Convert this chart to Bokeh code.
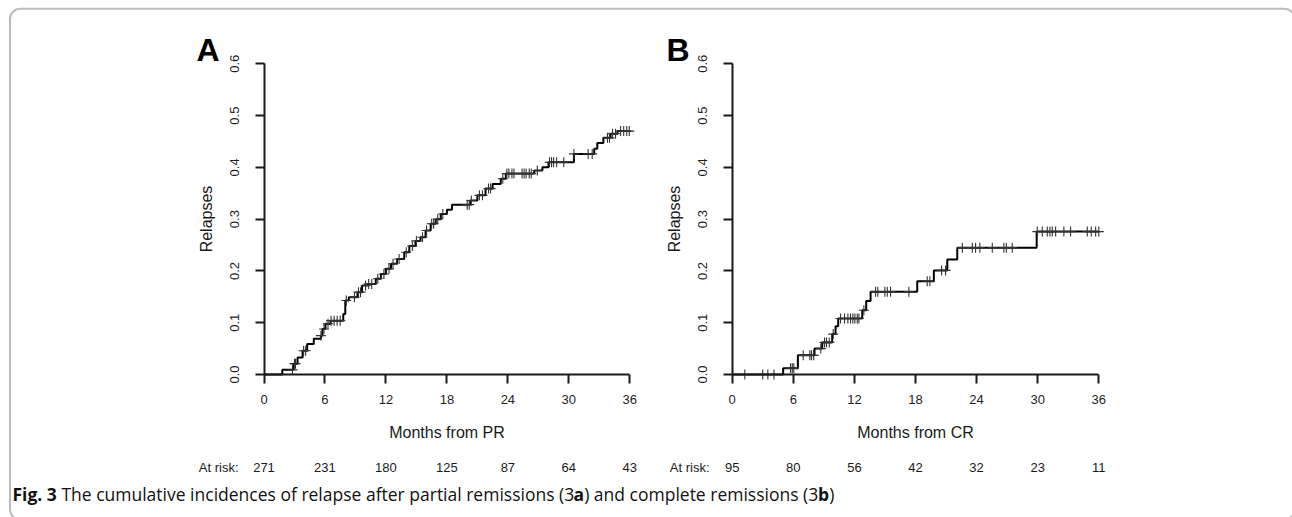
import glob
import os
import numpy as np
from bokeh.plotting import figure
from bokeh.models import Range1d, LinearAxis, FixedTicker, NumeralTickFormatter, BoxAnnotation
from bokeh.core.properties import value
from bokeh.embed import file_html
from bokeh.resources import INLINE

# ---------------- data ----------------
month_ticks = [0, 6, 12, 18, 24, 30, 36]
relapse_ticks = [0.0, 0.1, 0.2, 0.3, 0.4, 0.5, 0.6]
at_risk_pr = [271, 231, 180, 125, 87, 64, 43]
at_risk_cr = [95, 80, 56, 42, 32, 23, 11]

pr_event_times = [0, 1.8, 2.9, 3.3, 3.8, 4.25, 4.9, 5.6, 5.75, 6.05, 6.55, 7.8, 8.0, 8.35,
                  9.2, 9.65, 10.2, 11.0, 11.5, 12.0, 12.5, 13.1, 13.8, 14.3, 14.9, 15.4,
                  15.9, 16.4, 16.9, 17.4, 18.0, 18.5, 20.3, 21.0, 21.8, 22.5, 23.3, 23.8,
                  26.6, 27.4, 28.0, 30.5, 32.5, 32.8, 33.4, 34.1, 34.8]
pr_cuminc = [0, 0.009, 0.021, 0.033, 0.046, 0.059, 0.069, 0.075, 0.088, 0.098, 0.104, 0.117,
             0.143, 0.149, 0.159, 0.172, 0.175, 0.185, 0.194, 0.204, 0.214, 0.223, 0.236,
             0.248, 0.258, 0.265, 0.278, 0.291, 0.300, 0.310, 0.318, 0.328, 0.336, 0.346,
             0.359, 0.368, 0.378, 0.388, 0.394, 0.400, 0.410, 0.426, 0.436, 0.447, 0.457,
             0.465, 0.470]
pr_censor_times = [2.8, 3.0, 3.1, 3.9, 4.1, 5.6, 5.9, 6.3, 6.6, 6.9, 7.2, 7.5, 8.1, 8.9, 9.3,
                   9.5, 10.0, 10.3, 10.6, 11.2, 11.8, 12.3, 12.7, 13.3, 14.0, 14.6, 15.0,
                   15.6, 16.0, 16.5, 16.7, 17.1, 17.6, 20.0, 20.2, 20.4, 21.2, 21.5, 22.1,
                   22.3, 23.5, 23.9, 24.1, 24.4, 24.6, 25.4, 25.6, 25.8, 26.1, 26.3, 26.9,
                   28.1, 28.3, 28.5, 28.8, 29.5, 30.5, 31.9, 32.3, 33.8, 34.0, 34.3, 34.6,
                   35.1, 35.4, 35.7, 35.95]

cr_event_times = [0, 5.0, 6.45, 8.08, 8.84, 9.82, 10.15, 10.41, 12.77, 13.16, 13.59, 18.17,
                  19.8, 21.12, 22.1, 29.9]
cr_cuminc = [0, 0.012, 0.037, 0.050, 0.062, 0.078, 0.093, 0.108, 0.124, 0.142, 0.160, 0.180,
             0.201, 0.222, 0.245, 0.276]
cr_censor_times = [1.24, 3.0, 3.5, 4.1, 5.73, 5.9, 6.05, 6.97, 7.62, 7.79, 8.0, 8.7, 9.07,
                   9.26, 9.53, 9.92, 10.64, 11.03, 11.36, 11.62, 11.85, 12.05, 12.28, 12.44,
                   12.93, 14.08, 14.3, 14.99, 15.23, 15.55, 17.35, 19.15, 19.41, 20.56, 20.95,
                   22.6, 23.58, 23.9, 24.32, 25.54, 26.68, 26.92, 27.5, 29.96, 30.45, 30.94,
                   31.2, 31.43, 31.76, 32.57, 33.23, 34.87, 35.26, 35.69, 36.0]

caption_parts = [
    ("Fig. 3", "bold"),
    (" The cumulative incidences of relapse after partial remissions (3", "normal"),
    ("a", "bold"),
    (") and complete remissions (3", "normal"),
    ("b", "bold"),
    (")", "normal"),
]

# ---------------- layout (page pixels) ----------------
W, H = 1292, 517
X0, Y0 = 0, 0
X1, Y1 = X0 + W, Y0 + H
PANEL_Y0, PANEL_Y06 = 374.0, 63.3
PANEL_A = (263.5, 629.3)
PANEL_B = (731.7, 1098.3)

FONT = "Liberation Sans"
INK = "#1a1a1a"
CAP_SIZE = 17.5
CAP_X, CAP_BASE = 12, 493


def find_font(patterns):
    roots = ["/usr/share/fonts", "/usr/local/share/fonts", os.path.expanduser("~/.fonts"),
             os.path.expanduser("~/.local/share/fonts")]
    for pat in patterns:
        for r in roots:
            hits = sorted(glob.glob(os.path.join(r, "**", pat), recursive=True))
            if hits:
                return hits[0]
    return None


def text_width(txt, bold, size):
    try:
        from PIL import ImageFont
        if bold:
            path = find_font(["OpenSans-Bold.ttf", "OpenSans-Bold*.ttf"])
            if path is None:
                path = find_font(["OpenSans*wght*.ttf", "OpenSans*.ttf"])
                f = ImageFont.truetype(path, size)
                try:
                    f.set_variation_by_name("Bold")
                except Exception:
                    pass
            else:
                f = ImageFont.truetype(path, size)
        else:
            path = find_font(["OpenSans-Regular.ttf", "OpenSans*wght*.ttf", "OpenSans*.ttf"])
            f = ImageFont.truetype(path, size)
        return f.getlength(txt)
    except Exception:
        return len(txt) * size * (0.56 if bold else 0.5)


p = figure(width=W, height=H, output_backend="svg", toolbar_location=None,
           x_axis_type=None, y_axis_type=None,
           x_range=Range1d(X0, X1), y_range=Range1d(Y1, Y0),
           min_border=0, outline_line_color=None, background_fill_color="white",
           border_fill_color="white")

yscale = (PANEL_Y0 - PANEL_Y06) / 0.6
p.extra_y_ranges["py"] = Range1d((PANEL_Y0 - Y1) / yscale, (PANEL_Y0 - Y0) / yscale)


def add_panel(name, px, event_times, cuminc, censor_times, at_risk, xlabel, letter, letter_x, risk_label_x):
    xs = (px[1] - px[0]) / 36.0
    p.extra_x_ranges[name] = Range1d((X0 - px[0]) / xs, (X1 - px[0]) / xs)

    yax = LinearAxis(x_range_name=name, y_range_name="py", fixed_location=0, bounds=(0, 0.6),
                     ticker=FixedTicker(ticks=relapse_ticks),
                     formatter=NumeralTickFormatter(format="0.0"),
                     axis_label="Relapses", major_label_orientation="vertical")
    xax = LinearAxis(x_range_name=name, y_range_name="py", fixed_location=0, bounds=(0, 36),
                     ticker=FixedTicker(ticks=month_ticks), axis_label=xlabel)
    for ax in (yax, xax):
        ax.axis_line_width = 2
        ax.axis_line_color = INK
        ax.major_tick_line_width = 2
        ax.major_tick_line_color = INK
        ax.major_tick_out = 9
        ax.major_tick_in = 0
        ax.minor_tick_line_color = None
        ax.major_label_text_font = FONT
        ax.major_label_text_font_size = "13px"
        ax.major_label_text_color = "#1e1e1e"
        ax.axis_label_text_font = FONT
        ax.axis_label_text_font_size = "16px"
        ax.axis_label_text_font_style = "normal"
        ax.axis_label_text_color = "#1a1a1a"
    yax.major_label_standoff = 16
    yax.axis_label_standoff = 13
    xax.major_label_standoff = 11
    xax.axis_label_standoff = 17
    p.add_layout(yax, "left")
    p.add_layout(xax, "below")

    t = np.asarray(event_times + [36.0])
    c = np.asarray(cuminc + [cuminc[-1]])
    p.step(x=t, y=c, mode="after", line_width=2, line_color="black",
           x_range_name=name, y_range_name="py")

    ct = np.asarray(censor_times)
    idx = np.searchsorted(np.asarray(event_times), ct, side="right") - 1
    cy = np.asarray(cuminc)[idx]
    p.scatter(x=ct, y=cy, marker="cross", size=10, line_color="#333333", line_width=1.1,
              x_range_name=name, y_range_name="py")

    p.text(x=month_ticks, y=[467] * len(month_ticks), text=[str(v) for v in at_risk],
           x_range_name=name, text_align="center", text_baseline="middle",
           text_font=value(FONT), text_font_size="13px", text_color="#1a1a1a")
    p.text(x=[risk_label_x], y=[467], text=["At risk:"], text_align="right",
           text_baseline="middle", text_font=value(FONT),
           text_font_size="13px", text_color="#1a1a1a")
    p.text(x=[letter_x], y=[49], text=[letter], text_align="left", text_baseline="alphabetic",
           text_font=value(FONT), text_font_size="32px", text_font_style="bold", text_color="black")


add_panel("pa", PANEL_A, pr_event_times, pr_cuminc, pr_censor_times, at_risk_pr,
          "Months from PR", "A", 196, 238)
add_panel("pb", PANEL_B, cr_event_times, cr_cuminc, cr_censor_times, at_risk_cr,
          "Months from CR", "B", 666, 709)

# caption, laid out run by run (bold / regular); leading blanks become an x offset
cx = CAP_X
for txt, style in caption_parts:
    bold = style == "bold"
    stripped = txt.lstrip(" ")
    lead = txt[: len(txt) - len(stripped)]
    if lead:
        cx += text_width(lead, bold, CAP_SIZE)
    p.text(x=[cx], y=[CAP_BASE], text=[stripped], text_align="left", text_baseline="alphabetic",
           text_font=value("Open Sans"), text_font_size=f"{CAP_SIZE}px", text_font_style=style,
           text_color="#111111")
    cx += text_width(stripped, bold, CAP_SIZE)

# rounded frame of the figure panel
p.add_layout(BoxAnnotation(left=9.5, right=1294, top=8.3, bottom=519, fill_color=None,
                           line_color="#222222", line_width=2, border_radius=10))

open("out.html", "w").write(file_html(p, INLINE))
